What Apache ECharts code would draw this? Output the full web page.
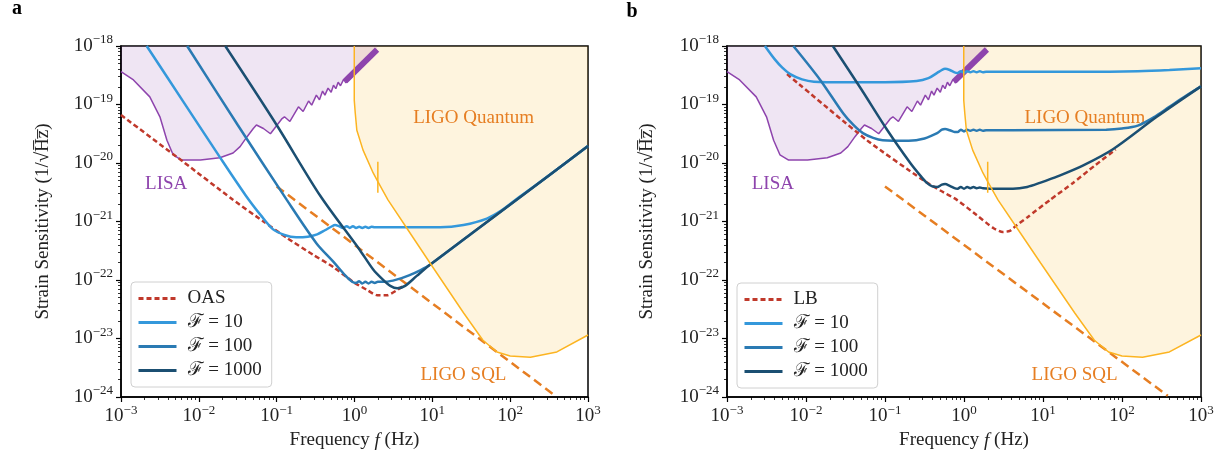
<!DOCTYPE html>
<html>
<head>
<meta charset="utf-8">
<script src="https://cdn.jsdelivr.net/npm/echarts@6/dist/echarts.min.js"></script>
<style>
  html, body { margin: 0; padding: 0; background: #fff; }
  #chart { width: 1222px; height: 457px; }
</style>
</head>
<body>
<div id="chart"></div>
<script>
// curves are [log10 f, log10 h] pairs

// shared by both panels
const lisa = [
  [-3.0, -18.44], [-2.84, -18.58], [-2.63, -18.87], [-2.5, -19.21], [-2.41, -19.61], [-2.33, -19.86],
  [-2.22, -19.95], [-1.98, -19.95], [-1.73, -19.91], [-1.56, -19.83], [-1.47, -19.72], [-1.38, -19.55],
  [-1.3, -19.41], [-1.26, -19.35], [-1.17, -19.41], [-1.08, -19.5], [-0.93, -19.24], [-0.9, -19.21],
  [-0.83, -19.29], [-0.72, -19.04], [-0.66, -19.12], [-0.59, -18.94], [-0.55, -19.01], [-0.49, -18.84],
  [-0.45, -18.92], [-0.41, -18.77], [-0.38, -18.84], [-0.34, -18.72], [-0.3, -18.79], [-0.27, -18.67],
  [-0.24, -18.73], [-0.21, -18.62], [-0.18, -18.68], [-0.14, -18.57], [-0.11, -18.63], [0.29, -18.07]
];
const lisaBand = [[-0.12, -18.6], [0.29, -18.06]];
const ligoQuantum = [
  [-0.003, -18.0], [-0.003, -18.93], [0.01, -19.15], [0.03, -19.44], [0.11, -19.78], [0.24, -20.17],
  [0.3, -20.32], [0.43, -20.63], [0.69, -21.15], [0.97, -21.71], [1.4, -22.56], [1.65, -23.03],
  [1.83, -23.23], [2.0, -23.3], [2.26, -23.32], [2.6, -23.23], [3.0, -22.94]
];
const ligoTick = [[0.3, -19.98], [0.3, -20.51]];
const ligoSql = [[-1.0, -20.4], [2.58, -23.98]];

// panel a
const oas = [
  [-3.0, -19.18], [-2.2, -19.98], [-1.57, -20.62], [-1.17, -21.0], [-0.87, -21.28], [-0.53, -21.57],
  [-0.27, -21.78], [-0.02, -22.03], [0.16, -22.17], [0.29, -22.26], [0.42, -22.26], [0.55, -22.17],
  [0.65, -22.08]
];
const f10A = [
  [-2.67, -18.0], [-2.2, -18.95], [-1.73, -19.9], [-1.4, -20.55], [-1.2, -20.9], [-1.05, -21.13],
  [-0.9, -21.23], [-0.75, -21.27], [-0.6, -21.26], [-0.48, -21.22], [-0.38, -21.15], [-0.3, -21.09],
  [-0.25, -21.06], [-0.2, -21.08], [-0.15, -21.11], [-0.1, -21.08], [-0.06, -21.11], [-0.02, -21.08],
  [0.02, -21.11], [0.06, -21.09], [0.1, -21.11], [0.14, -21.09], [0.18, -21.11], [0.22, -21.09],
  [0.26, -21.1], [0.5, -21.1], [0.8, -21.1], [1.1, -21.1], [1.4, -21.06], [1.7, -20.95],
  [1.9, -20.8], [2.1, -20.6], [2.5, -20.21], [3.0, -19.71]
];
const f100A = [
  [-2.15, -18.0], [-1.5, -19.35], [-0.87, -20.63], [-0.49, -21.37], [-0.27, -21.69], [-0.12, -21.92],
  [-0.03, -22.03], [0.02, -22.05], [0.06, -22.02], [0.1, -22.06], [0.14, -22.03], [0.18, -22.06],
  [0.22, -22.03], [0.26, -22.05], [0.3, -22.03], [0.4, -22.03], [0.55, -21.99], [0.7, -21.92],
  [0.85, -21.83], [0.97, -21.74], [1.5, -21.21], [2.1, -20.61], [3.0, -19.71]
];
const f1000A = [
  [-1.66, -18.0], [-1.0, -19.35], [-0.44, -20.56], [0.07, -21.49], [0.24, -21.82], [0.37, -22.0],
  [0.46, -22.1], [0.55, -22.14], [0.65, -22.1], [0.8, -21.93], [0.97, -21.74], [1.5, -21.21],
  [2.1, -20.61], [3.0, -19.71]
];

// panel b
const lb = [
  [-2.24, -18.48], [-1.23, -19.61], [-0.52, -20.29], [-0.3, -20.47], [-0.09, -20.63], [0.16, -20.89],
  [0.37, -21.11], [0.49, -21.18], [0.58, -21.16], [0.67, -21.06], [0.8, -20.93], [1.09, -20.63],
  [1.38, -20.34], [1.65, -20.05], [1.92, -19.77]
];
const f10B = [
  [-2.52, -18.0], [-2.4, -18.22], [-2.3, -18.37], [-2.2, -18.48], [-2.05, -18.57], [-1.9, -18.61],
  [-1.5, -18.62], [-1.0, -18.62], [-0.6, -18.6], [-0.45, -18.55], [-0.34, -18.46], [-0.28, -18.41],
  [-0.24, -18.39], [-0.18, -18.41], [-0.12, -18.45], [-0.08, -18.46], [-0.04, -18.43], [0.0, -18.46],
  [0.04, -18.43], [0.08, -18.45], [0.12, -18.43], [0.16, -18.45], [0.2, -18.43], [0.24, -18.45],
  [0.28, -18.44], [0.6, -18.44], [1.5, -18.44], [2.2, -18.43], [2.6, -18.41], [3.0, -18.38]
];
const f100B = [
  [-2.16, -18.0], [-1.82, -18.58], [-1.53, -19.15], [-1.4, -19.35], [-1.28, -19.49], [-1.15, -19.57],
  [-1.03, -19.61], [-0.7, -19.62], [-0.5, -19.58], [-0.34, -19.49], [-0.28, -19.43], [-0.24, -19.42],
  [-0.18, -19.44], [-0.12, -19.47], [-0.08, -19.47], [-0.04, -19.43], [0.0, -19.46], [0.04, -19.43],
  [0.08, -19.45], [0.12, -19.43], [0.16, -19.45], [0.2, -19.43], [0.24, -19.45], [0.28, -19.44],
  [0.6, -19.44], [1.8, -19.43], [2.0, -19.41], [2.2, -19.36], [2.4, -19.22], [2.6, -19.04],
  [2.8, -18.86], [3.0, -18.69]
];
const f1000B = [
  [-1.66, -18.0], [-1.3, -18.74], [-0.97, -19.44], [-0.68, -20.0], [-0.55, -20.22], [-0.47, -20.34],
  [-0.4, -20.4], [-0.34, -20.41], [-0.28, -20.37], [-0.24, -20.36], [-0.18, -20.39], [-0.12, -20.43],
  [-0.08, -20.44], [-0.04, -20.41], [0.0, -20.44], [0.04, -20.41], [0.08, -20.43], [0.12, -20.41],
  [0.16, -20.43], [0.2, -20.42], [0.24, -20.43], [0.4, -20.44], [0.62, -20.44], [0.8, -20.41],
  [0.96, -20.34], [1.2, -20.22], [1.51, -20.04], [1.89, -19.76], [2.44, -19.21], [3.0, -18.69]
];

// axis decades
const xDecades = [-3, -2, -1, 0, 1, 2, 3];
const yDecades = [-24, -23, -22, -21, -20, -19, -18];

const legendNames = ['ℱ = 10', 'ℱ = 100', 'ℱ = 1000'];

// text anchors (log10 coords)
const lisaLabelAt = [-2.42, -20.36];
const ligoQuantumLabelAt = [1.53, -19.23];
const ligoSqlLabelAt = [1.4, -23.62];

const SERIF = '"Liberation Serif", "DejaVu Serif", serif';
const colors = {
  lisa: '#8e44ad',
  ligo: '#fcb421',
  sql: '#e67e22',
  red: '#c0392b',
  f10: '#3498db',
  f100: '#2a7ab3',
  f1000: '#1b4f72'
};

const toLin = pts => pts.map(([x, y]) => [Math.pow(10, x), Math.pow(10, y)]);
const pow10 = e => Math.pow(10, e);

const xMajor = xDecades.map(pow10);
const yMajor = yDecades.map(pow10);
const xMinor = [];
xDecades.slice(0, -1).forEach(e => { for (let k = 2; k <= 9; k++) xMinor.push(k * pow10(e)); });
const yMinor = [];
yDecades.slice(0, -1).forEach(e => { for (let k = 2; k <= 9; k++) yMinor.push(k * pow10(e)); });

const powLabel = v => {
  const e = Math.round(Math.log10(v));
  return '{b|10}{e|' + (e < 0 ? '−' + (-e) : e) + '}';
};
const powRich = {
  b: { fontFamily: SERIF, fontSize: 19, color: '#222' },
  e: { fontFamily: SERIF, fontSize: 13, color: '#222', padding: [0, 0, 12, 0] }
};

const chart = echarts.init(document.getElementById('chart'));

const grids = [
  { left: 121, top: 46, width: 467, height: 351 },
  { left: 727, top: 46, width: 474, height: 351 }
];

const xAxes = [];
const yAxes = [];
grids.forEach((g, gi) => {
  xAxes.push({
    gridIndex: gi, type: 'log', logBase: 10, min: 1e-3, max: 1e3, position: 'bottom',
    axisLine: { lineStyle: { color: '#000', width: 1.5 } },
    axisTick: { customValues: xMajor, length: 5, lineStyle: { color: '#000', width: 1.2 } },
    axisLabel: { customValues: xMajor, formatter: powLabel, rich: powRich, margin: 7 },
    splitLine: { show: false },
    name: 'Frequency {i|f} (Hz)', nameLocation: 'middle', nameGap: 34,
    nameTextStyle: {
      fontFamily: SERIF, fontSize: 19, color: '#222',
      rich: { i: { fontFamily: SERIF, fontSize: 19, fontStyle: 'italic', color: '#222' } }
    }
  });
  xAxes.push({
    gridIndex: gi, type: 'log', logBase: 10, min: 1e-3, max: 1e3, position: 'bottom',
    axisLine: { show: false },
    axisTick: { customValues: xMinor, length: 3, lineStyle: { color: '#000', width: 0.8 } },
    axisLabel: { show: false },
    splitLine: { show: false }
  });
  yAxes.push({
    gridIndex: gi, type: 'log', logBase: 10, min: 1e-24, max: 1e-18, position: 'left',
    axisLine: { lineStyle: { color: '#000', width: 1.5 } },
    axisTick: { customValues: yMajor, length: 5, lineStyle: { color: '#000', width: 1.2 } },
    axisLabel: { customValues: yMajor, formatter: powLabel, rich: powRich, margin: 8 },
    splitLine: { show: false },
    name: 'Strain Sensitivity (1/√H̅z̅)', nameLocation: 'middle', nameGap: gi === 0 ? 68 : 70,
    nameTextStyle: { fontFamily: SERIF, fontSize: 19, color: '#222' }
  });
  yAxes.push({
    gridIndex: gi, type: 'log', logBase: 10, min: 1e-24, max: 1e-18, position: 'left',
    axisLine: { show: false },
    axisTick: { customValues: yMinor, length: 3, lineStyle: { color: '#000', width: 0.8 } },
    axisLabel: { show: false },
    splitLine: { show: false }
  });
});

const line = (name, data, ax, color, width, z, extra) => Object.assign({
  name, type: 'line', data: toLin(data), xAxisIndex: ax, yAxisIndex: ax,
  symbol: 'none', silent: true, z,
  lineStyle: { color, width }, itemStyle: { color }
}, extra || {});

const series = [];
[
  { ax: 0, red: oas, redName: 'OAS', f: [f10A, f100A, f1000A] },
  { ax: 2, red: lb, redName: 'LB', f: [f10B, f100B, f1000B] }
].forEach(p => {
  series.push(line('LISA', lisa, p.ax, colors.lisa, 1.5, 1, {
    areaStyle: { origin: 'end', color: 'rgba(142,68,173,0.2)' }
  }));
  series.push(line('LISA band', lisaBand, p.ax, colors.lisa, 6, 1));
  series.push(line('LIGO fill', ligoQuantum, p.ax, colors.ligo, 0, 0, {
    lineStyle: { width: 0, opacity: 0 },
    areaStyle: { origin: 'end', color: 'rgba(250,185,40,0.22)' }
  }));
  series.push(line('LIGO SQL', ligoSql, p.ax, colors.sql, 2.5, 2, {
    lineStyle: { color: colors.sql, width: 2.5, type: [9, 5] }
  }));
  series.push(line(p.redName, p.red, p.ax, colors.red, 2.5, 3, {
    lineStyle: { color: colors.red, width: 2.5, type: [5, 3] }, smooth: 0.2
  }));
  series.push(line(legendNames[0], p.f[0], p.ax, colors.f10, 2.5, 4, { smooth: 0.3 }));
  series.push(line(legendNames[1], p.f[1], p.ax, colors.f100, 2.5, 5, { smooth: 0.3 }));
  series.push(line(legendNames[2], p.f[2], p.ax, colors.f1000, 2.5, 6, { smooth: 0.3 }));
  series.push(line('LIGO Quantum', ligoQuantum, p.ax, colors.ligo, 1.5, 7));
  series.push(line('LIGO tick', ligoTick, p.ax, colors.ligo, 1.5, 7));
});

const legendBase = {
  orient: 'vertical', itemWidth: 38, itemHeight: 12, itemGap: 5,
  backgroundColor: 'rgba(255,255,255,0.85)', borderColor: '#d0d0d0', borderWidth: 1, borderRadius: 4,
  padding: [7, 10, 7, 6],
  itemStyle: { opacity: 0 },
  lineStyle: { width: 3 },
  textStyle: { fontFamily: SERIF, fontSize: 19, color: '#222', padding: [0, 0, 0, 6] },
  selectedMode: false
};

chart.setOption({
  animation: false,
  backgroundColor: '#fff',
  grid: grids.map(g => Object.assign({ show: true, borderColor: '#000', borderWidth: 1.5, backgroundColor: 'transparent' }, g)),
  xAxis: xAxes,
  yAxis: yAxes,
  legend: [
    Object.assign({ data: ['OAS'].concat(legendNames), left: 131, top: 282 }, legendBase),
    Object.assign({ data: ['LB'].concat(legendNames), left: 737, top: 283 }, legendBase)
  ],
  series
});

// text labels placed in data space
const at = (gi, p) => chart.convertToPixel({ gridIndex: gi }, [pow10(p[0]), pow10(p[1])]);
const label = (gi, p, text, color) => {
  const [x, y] = at(gi, p);
  return {
    type: 'text', x, y, silent: true,
    style: { text, fill: color, font: '19px ' + SERIF, align: 'center', verticalAlign: 'middle' }
  };
};
const graphics = [];
[0, 1].forEach(gi => {
  graphics.push(label(gi, lisaLabelAt, 'LISA', colors.lisa));
  graphics.push(label(gi, ligoQuantumLabelAt, 'LIGO Quantum', colors.sql));
  graphics.push(label(gi, ligoSqlLabelAt, 'LIGO SQL', colors.sql));
});
graphics.push({ type: 'text', x: 17, y: 9, style: { text: 'a', fill: '#000', font: 'bold 20px ' + SERIF, align: 'center', verticalAlign: 'middle' } });
graphics.push({ type: 'text', x: 632, y: 12, style: { text: 'b', fill: '#000', font: 'bold 20px ' + SERIF, align: 'center', verticalAlign: 'middle' } });
chart.setOption({ graphic: graphics });
</script>
</body>
</html>
